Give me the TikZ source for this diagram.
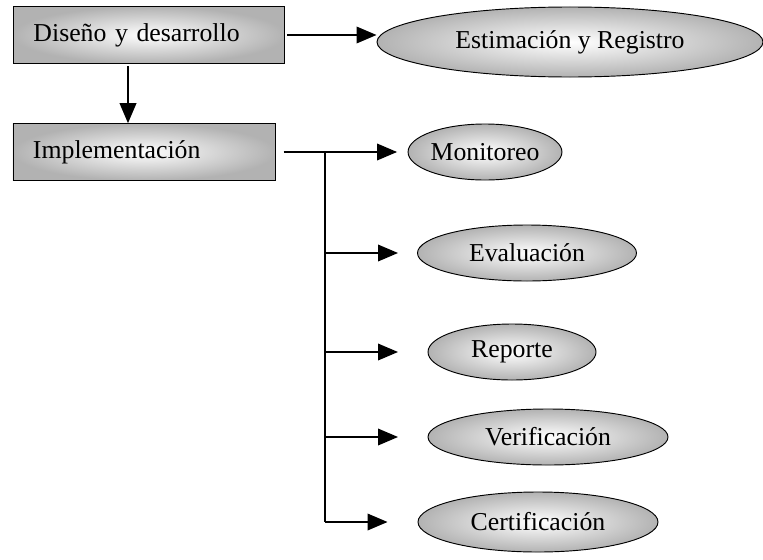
\documentclass[tikz,border=0pt]{standalone}
\usepackage{fontspec}
\setmainfont{Liberation Serif}
\usetikzlibrary{shapes.geometric,arrows.meta}

\begin{document}
\begin{tikzpicture}[x=0.03cm, y=-0.03cm,
  caja/.style={draw, thick, shading=radial, inner color=white, outer color=gray!60,
    minimum height=1.7cm, inner xsep=0.6cm, align=left, font=\fontsize{22}{26}\selectfont},
  elipse/.style={ellipse, draw, thick, shading=radial, inner color=white, outer color=gray!60,
    inner sep=0pt, minimum height=1.68cm, font=\fontsize{22}{26}\selectfont},
  flecha/.style={line width=1.2pt, -{Triangle[length=0.6cm, width=0.5cm]}},
  linea/.style={line width=1.2pt}]
\useasboundingbox (0,0) rectangle (763,559);

% Cajas
\node[caja, text width=6.93cm] (dis) at (149,35) {Diseño y desarrollo};
\node[caja, text width=6.66cm] (imp) at (144,152) {Implementación};

% Elipses
\node[elipse, minimum width=11.58cm, minimum height=2.1cm] (est) at (570,42) {Estimación y Registro};
\node[elipse, minimum width=4.05cm] (mon) at (485,152) {Monitoreo};
\node[elipse, minimum width=6.57cm] (eva) at (527,253) {Evaluación};
\node[elipse, minimum width=5.04cm] (rep) at (512,352) {Reporte};
\node[elipse, minimum width=7.2cm] (ver) at (548,437) {Verificación};
\node[elipse, minimum width=7.2cm, minimum height=1.8cm] (cer) at (538,522) {Certificación};

% Conectores
\coordinate (tronco) at (325,152);
\coordinate (pie) at (325,522);
\coordinate (punta) at (398,0);
\coordinate (bajada) at (128,0);

\draw[flecha, shorten <=2pt] (dis.east) -- (dis.east -| est.west);
\draw[flecha, shorten <=2pt] (bajada |- dis.south) -- (bajada |- imp.north);
\draw[flecha, shorten <=7pt, shorten >=9pt] (imp.east) -- (mon.west);
\draw[linea] (tronco) -- (pie);
\draw[flecha] (tronco |- eva.west) -- (punta |- eva.west);
\draw[flecha] (tronco |- rep.west) -- (punta |- rep.west);
\draw[flecha] (tronco |- ver.west) -- (punta |- ver.west);
\draw[flecha] (pie) -- ([xshift=-0.9cm]cer.west);
\end{tikzpicture}
\end{document}
